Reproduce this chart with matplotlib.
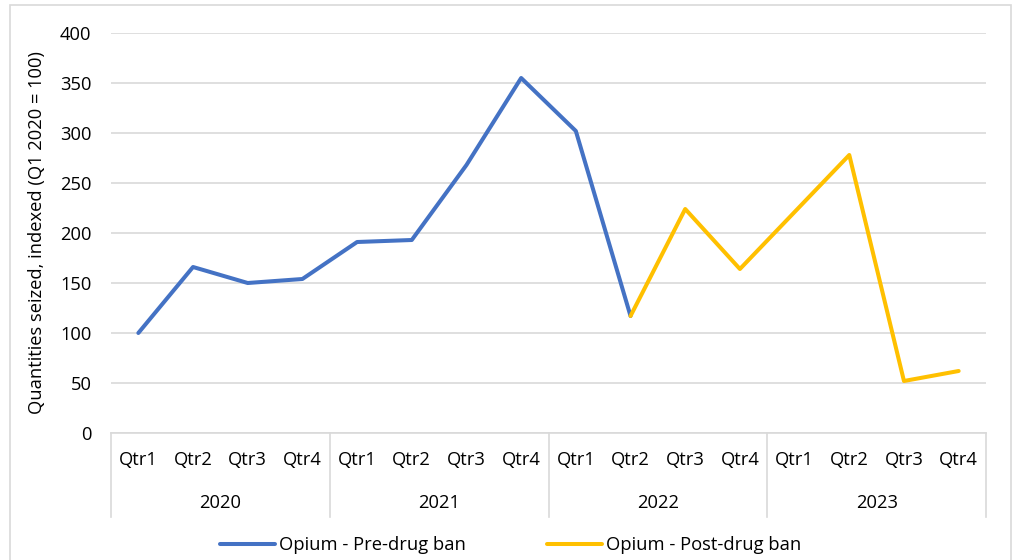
import matplotlib
matplotlib.use("Agg")
import matplotlib.pyplot as plt
import matplotlib.transforms as mtransforms
from matplotlib.patches import Rectangle
import numpy as np

plt.rcParams['font.family'] = ['Open Sans', 'DejaVu Sans']

years = ["2020", "2021", "2022", "2023"]
quarters = ["Qtr1", "Qtr2", "Qtr3", "Qtr4"]
pre_ban = [100, 166, 150, 154, 191, 193, 268, 355, 302, 117]
post_ban = [117, 224, 164, 221, 278, 52, 62]
post_start = 9
y_ticks = [0, 50, 100, 150, 200, 250, 300, 350, 400]

BLUE = "#4472C4"
YELLOW = "#FFC000"
GRID = "#d9d9d9"
TXT = "#000000"
FS = 13.2

fig = plt.figure(figsize=(10.21, 5.60), dpi=100)
fig.patch.set_facecolor("white")
fig.patches.append(Rectangle((10/1021, -0.05), 1001/1021, 1.05 - 5/560, transform=fig.transFigure,
                             fill=False, edgecolor=GRID, linewidth=1.2, zorder=0))

ax = fig.add_axes([111/1021, (560-433)/560, 875/1021, 400/560])
n = len(years) * len(quarters)
x_all = np.arange(n)
ax.plot(x_all[:len(pre_ban)], pre_ban, color=BLUE, lw=2.9, solid_joinstyle="round",
        solid_capstyle="round", label="Opium - Pre-drug ban", zorder=3)
ax.plot(x_all[post_start:post_start+len(post_ban)], post_ban, color=YELLOW, lw=2.9,
        solid_joinstyle="round", solid_capstyle="round", label="Opium - Post-drug ban", zorder=4)

ax.set_xlim(-0.5, n - 0.5)
ax.set_ylim(0, 400)
ax.set_yticks(y_ticks)
ax.set_yticklabels([str(v) for v in y_ticks], fontsize=FS, color=TXT)
ax.tick_params(axis="y", length=0, pad=14)
ax.set_xticks([])
ax.grid(axis="y", color=GRID, lw=1.2)
ax.set_axisbelow(True)
for s in ["top", "right", "left"]:
    ax.spines[s].set_visible(False)
ax.spines["bottom"].set_color(GRID)
ax.spines["bottom"].set_linewidth(1.2)

trans = mtransforms.blended_transform_factory(ax.transData, ax.transAxes)
for i in range(n):
    ax.text(i, -27/400, quarters[i % 4], transform=trans, ha="center", va="center",
            fontsize=FS, color=TXT)
for g, yr in enumerate(years):
    ax.text(g*4 + 1.5, -70/400, yr, transform=trans, ha="center", va="center",
            fontsize=FS, color=TXT)
for g in range(len(years) + 1):
    xb = g*4 - 0.5
    ax.plot([xb, xb], [0, -84/400], transform=trans, color=GRID, lw=1.2, clip_on=False)

ax.set_ylabel("Quantities seized, indexed (Q1 2020 = 100)", fontsize=FS, color=TXT, labelpad=10)

leg = fig.legend(loc="center", bbox_to_anchor=(0.5, (560-545)/560), ncol=2, frameon=False,
                 fontsize=FS, handlelength=3.0, handletextpad=0.25, columnspacing=4.4)

fig.savefig("out.png", dpi=100)
